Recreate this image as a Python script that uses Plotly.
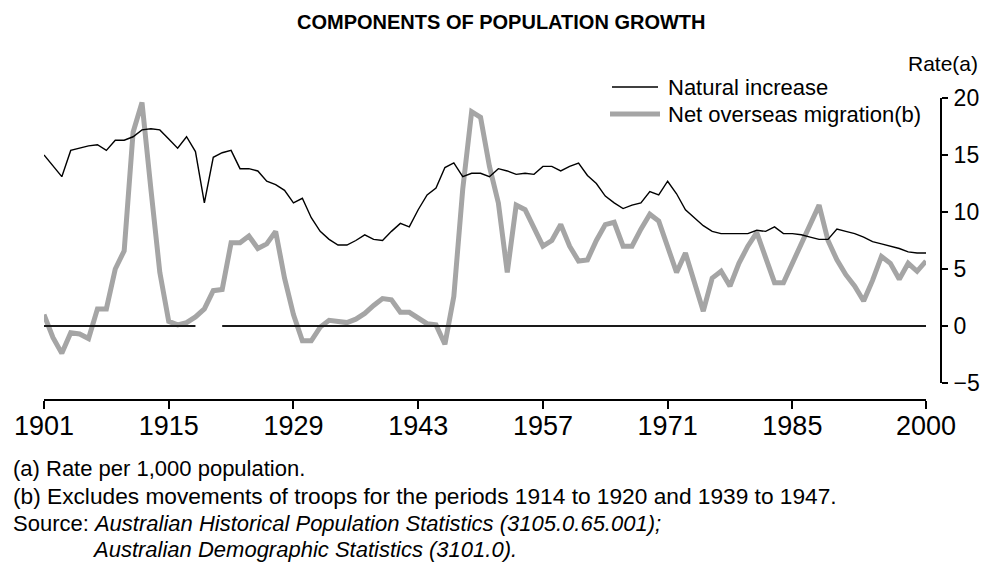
import plotly.graph_objects as go

years = list(range(1901, 2001))

natural_increase = [
    15.0, 14.1, 13.1, 15.4, 15.6, 15.8, 15.9, 15.4, 16.3, 16.3,   # 1901-1910
    16.6, 17.2, 17.3, 17.2, 16.4, 15.6, 16.6, 15.3, 10.8, 14.8,   # 1911-1920
    15.2, 15.4, 13.8, 13.8, 13.6, 12.7, 12.4, 11.9, 10.8, 11.2,   # 1921-1930
    9.5, 8.3, 7.6, 7.1, 7.1, 7.5, 8.0, 7.6, 7.5, 8.3,             # 1931-1940
    9.0, 8.7, 10.2, 11.5, 12.1, 13.9, 14.3, 13.1, 13.4, 13.4,     # 1941-1950
    13.1, 13.8, 13.6, 13.3, 13.4, 13.3, 14.0, 14.0, 13.6, 14.0,   # 1951-1960
    14.3, 13.2, 12.5, 11.4, 10.8, 10.3, 10.6, 10.8, 11.8, 11.5,   # 1961-1970
    12.7, 11.6, 10.2, 9.5, 8.8, 8.3, 8.1, 8.1, 8.1, 8.1,          # 1971-1980
    8.4, 8.3, 8.7, 8.1, 8.1, 8.0, 7.8, 7.6, 7.6, 8.5,             # 1981-1990
    8.3, 8.1, 7.8, 7.4, 7.2, 7.0, 6.8, 6.5, 6.4, 6.4,             # 1991-2000
]

net_overseas_migration = [
    1.0, -1.0, -2.4, -0.6, -0.7, -1.1, 1.5, 1.5, 5.0, 6.6,        # 1901-1910
    17.0, 19.6, 12.0, 4.7, 0.4, 0.1, 0.3, 0.8, 1.5, 3.1,          # 1911-1920
    3.2, 7.3, 7.3, 7.9, 6.8, 7.2, 8.3, 4.2, 1.0, -1.3,            # 1921-1930
    -1.3, -0.1, 0.5, 0.4, 0.3, 0.6, 1.1, 1.8, 2.4, 2.3,           # 1931-1940
    1.2, 1.2, 0.7, 0.2, 0.1, -1.6, 2.6, 12.0, 18.8, 18.3,         # 1941-1950
    14.0, 10.8, 4.7, 10.6, 10.2, 8.5, 7.0, 7.5, 8.9, 7.0,         # 1951-1960
    5.7, 5.8, 7.5, 8.9, 9.1, 7.0, 7.0, 8.5, 9.8, 9.2,             # 1961-1970
    7.0, 4.7, 6.4, 4.0, 1.3, 4.2, 4.8, 3.5, 5.5, 7.0,             # 1971-1980
    8.2, 6.0, 3.8, 3.8, 5.5, 7.1, 9.0, 10.6, 7.5, 5.8,            # 1981-1990
    4.5, 3.5, 2.2, 4.0, 6.1, 5.5, 4.1, 5.5, 4.8, 5.7,             # 1991-2000
]

# zero reference line, broken for 1919-1920
zero_gap_years = [1919, 1920]
zero_line = [None if y in zero_gap_years else 0 for y in years]

x_tick_vals = [1901, 1915, 1929, 1943, 1957, 1971, 1985, 2000]
y_tick_vals = [-5, 0, 5, 10, 15, 20]

title_text = "COMPONENTS OF POPULATION GROWTH"
legend_labels = ["Natural increase", "Net overseas migration(b)"]
y_title = "Rate(a)"
footnotes = [
    "(a) Rate per 1,000 population.",
    "(b) Excludes movements of troops for the periods 1914 to 1920 and 1939 to 1947.",
]
source_lines = [
    "Source: <i>Australian Historical Population Statistics (3105.0.65.001);</i>",
    "<i>Australian Demographic Statistics (3101.0).</i>",
]

# ---- layout geometry (pixels; page has an 8px body margin) ----
OFF = 8
W, H = 990 - OFF, 581 - OFF
L, R, T, B = 44 - OFF, 64, 98 - OFF, 182
PW = W - L - R
PH = H - T - B

def px(xp):
    return (xp - OFF - L) / PW

def py(yp):
    return (H - B - (yp - OFF)) / PH

FONT = "Liberation Sans, Arial, sans-serif"
GREY = "#a5a5a5"

fig = go.Figure()
fig.add_trace(go.Scatter(x=years, y=net_overseas_migration, mode="lines",
                         line=dict(color=GREY, width=5), showlegend=False))
fig.add_trace(go.Scatter(x=years, y=natural_increase, mode="lines",
                         line=dict(color="#000000", width=1.4), showlegend=False))
fig.add_trace(go.Scatter(x=years, y=zero_line, mode="lines",
                         line=dict(color="#1a1a1a", width=2), connectgaps=False,
                         showlegend=False))

ymin = -5 - 16 * 25 / 285.0

fig.update_layout(
    width=W, height=H,
    margin=dict(l=L, r=R, t=T, b=B, autoexpand=False),
    paper_bgcolor="white", plot_bgcolor="white",
    font=dict(family=FONT, color="#000000"),
    xaxis=dict(range=[1901, 2000], tickvals=x_tick_vals,
               ticktext=[str(v) for v in x_tick_vals], automargin=False,
               showgrid=False, zeroline=False, showline=True,
               linecolor="#000000", linewidth=2,
               ticks="outside", ticklen=8, tickwidth=2, tickcolor="#000000",
               ticklabelstandoff=-6,
               tickfont=dict(size=27, family=FONT)),
    yaxis=dict(range=[ymin, 20], tickvals=y_tick_vals, automargin=False,
               side="right", anchor="free", position=1, shift=15,
               showgrid=False, zeroline=False, showline=False,
               ticks="outside", ticklen=6, tickwidth=2, tickcolor="#000000",
               ticklabelstandoff=1,
               tickfont=dict(size=23, family=FONT)),
)

# y axis line from -5 to 20
fig.add_shape(type="line", xref="paper", yref="y", x0=px(941), x1=px(941),
              y0=-5, y1=20, line=dict(color="#000000", width=2))

# legend samples
fig.add_shape(type="line", xref="paper", yref="paper", x0=px(612), x1=px(658),
              y0=py(87), y1=py(87), line=dict(color="#000000", width=1.5))
fig.add_shape(type="line", xref="paper", yref="paper", x0=px(610), x1=px(660),
              y0=py(114), y1=py(114), line=dict(color=GREY, width=5))

ann = []
ann.append(dict(text="<b>" + title_text + "</b>", xref="paper", yref="paper",
                x=px(501), y=py(22), xanchor="center", yanchor="middle",
                showarrow=False, font=dict(size=20, family=FONT)))
ann.append(dict(text=legend_labels[0], xref="paper", yref="paper",
                x=px(666), y=py(87), xanchor="left", yanchor="middle",
                showarrow=False, font=dict(size=22, family=FONT)))
ann.append(dict(text=legend_labels[1], xref="paper", yref="paper",
                x=px(666), y=py(114), xanchor="left", yanchor="middle",
                showarrow=False, font=dict(size=22, family=FONT)))
ann.append(dict(text=y_title, xref="paper", yref="paper",
                x=px(980), y=py(64), xanchor="right", yanchor="middle",
                showarrow=False, font=dict(size=21, family=FONT)))
foot_y = [468, 496]
foot_size = [22, 22.7]
for t, yy, fs in zip(footnotes, foot_y, foot_size):
    ann.append(dict(text=t, xref="paper", yref="paper", x=px(11), y=py(yy),
                    xanchor="left", yanchor="middle", showarrow=False,
                    font=dict(size=fs, family=FONT)))
src_pos = [(11, 523), (90, 549)]
for t, (xx, yy) in zip(source_lines, src_pos):
    ann.append(dict(text=t, xref="paper", yref="paper", x=px(xx), y=py(yy),
                    xanchor="left", yanchor="middle", showarrow=False,
                    font=dict(size=22, family=FONT)))
fig.update_layout(annotations=ann)

fig.write_html("out.html")
